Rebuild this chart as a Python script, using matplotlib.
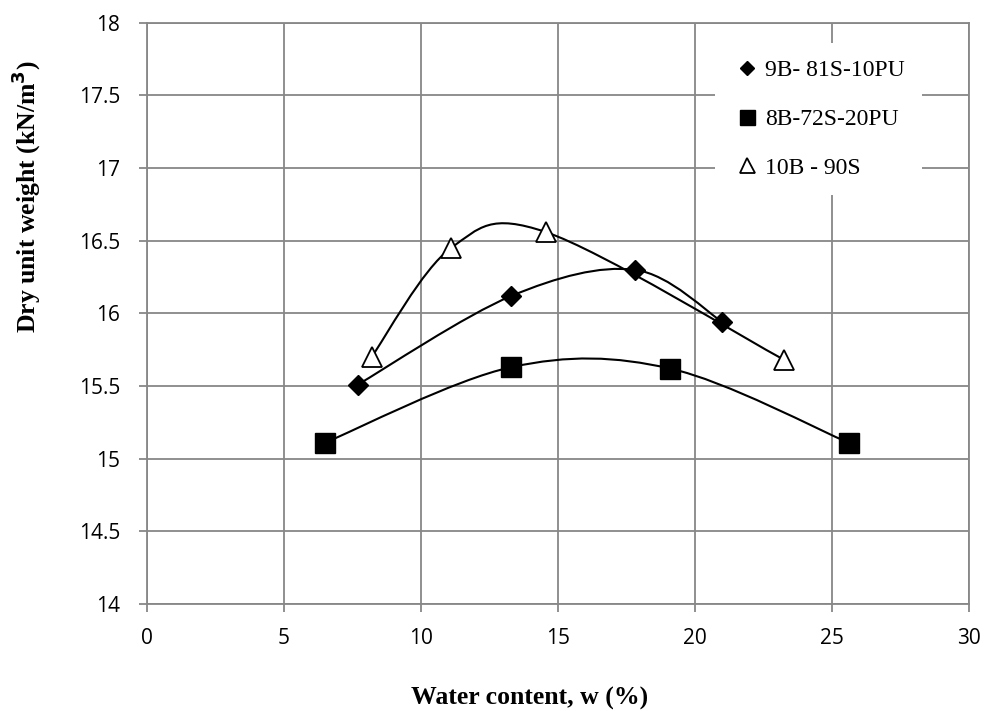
import matplotlib
matplotlib.use("Agg")
import matplotlib.pyplot as plt
from matplotlib.path import Path
from matplotlib.patches import PathPatch
import numpy as np

# Data
w_9b = [7.7, 13.3, 17.8, 21.0]
g_9b = [15.51, 16.12, 16.30, 15.94]
w_8b = [6.5, 13.3, 19.1, 25.6]
g_8b = [15.11, 15.63, 15.62, 15.11]
w_10b = [8.2, 11.1, 14.55, 23.25]
g_10b = [15.70, 16.45, 16.56, 15.68]
labels = ["9B- 81S-10PU", "8B-72S-20PU", "10B - 90S"]
xticks = [0, 5, 10, 15, 20, 25, 30]
yticks = [14, 14.5, 15, 15.5, 16, 16.5, 17, 17.5, 18]


def smooth_path(xs, ys):
    p = np.column_stack([xs, ys]).astype(float)
    n = len(p)
    ext = np.vstack([p[0], p, p[-1]])
    verts = [tuple(p[0])]
    codes = [Path.MOVETO]
    for i in range(n - 1):
        p0, p1, p2, p3 = ext[i], ext[i + 1], ext[i + 2], ext[i + 3]
        c1 = p1 + (p2 - p0) / 6.0
        c2 = p2 - (p3 - p1) / 6.0
        verts += [tuple(c1), tuple(c2), tuple(p2)]
        codes += [Path.CURVE4] * 3
    return Path(verts, codes)


fig = plt.figure(figsize=(9.85, 7.11), dpi=100)
ax = fig.add_axes([0.149, 0.1505, 0.835, 0.8175])
ax.set_xlim(0, 30)
ax.set_ylim(14, 18)

for xs, ys in [(w_9b, g_9b), (w_8b, g_8b), (w_10b, g_10b)]:
    ax.add_patch(PathPatch(smooth_path(xs, ys), fill=False, edgecolor="black",
                           linewidth=1.5, zorder=3))

ax.plot(w_9b, g_9b, linestyle="none", marker="D", markersize=10.5,
        color="black", label=labels[0], zorder=4)
ax.plot(w_8b, g_8b, linestyle="none", marker="s", markersize=15,
        color="black", label=labels[1], zorder=4)
ax.plot(w_10b, g_10b, linestyle="none", marker="^", markersize=15,
        markerfacecolor="white", markeredgecolor="black", markeredgewidth=1.3,
        color="black", label=labels[2], zorder=4)

ax.set_xticks(xticks)
ax.set_yticks(yticks)
ax.set_xticklabels([str(v) for v in xticks], fontfamily="Open Sans", fontsize=15)
ax.set_yticklabels([f"{v:g}" for v in yticks], fontfamily="Open Sans", fontsize=15)
ax.grid(True, color="#878787", linewidth=1.3)
for s in ax.spines.values():
    s.set_color("#878787")
    s.set_linewidth(1.3)
ax.tick_params(axis="both", direction="out", length=6, width=1.3, color="#878787")
ax.tick_params(axis="x", pad=11)
ax.tick_params(axis="y", pad=13)
ax.set_axisbelow(True)

fig.text(530 / 985, 1 - 698 / 711, "Water content, w (%)", family="Liberation Serif",
         fontweight="bold", fontsize=18.5, ha="center", va="center")
fig.text(26 / 985, 1 - 197 / 711, "Dry unit weight (kN/m$^\\mathbf{3}$)",
         family="Liberation Serif", fontweight="bold", fontsize=18.5,
         ha="center", va="center", rotation=90)

leg = ax.legend(loc="upper left", bbox_to_anchor=(0.677, 0.985), frameon=True,
                fancybox=False, edgecolor="none", facecolor="white", framealpha=1,
                prop={"family": "Liberation Serif", "size": 17},
                labelspacing=1.15, handletextpad=0.12, handlelength=1.3,
                borderpad=0.7, markerscale=0.72)
leg.set_zorder(5)

fig.savefig("out.png", dpi=100)
